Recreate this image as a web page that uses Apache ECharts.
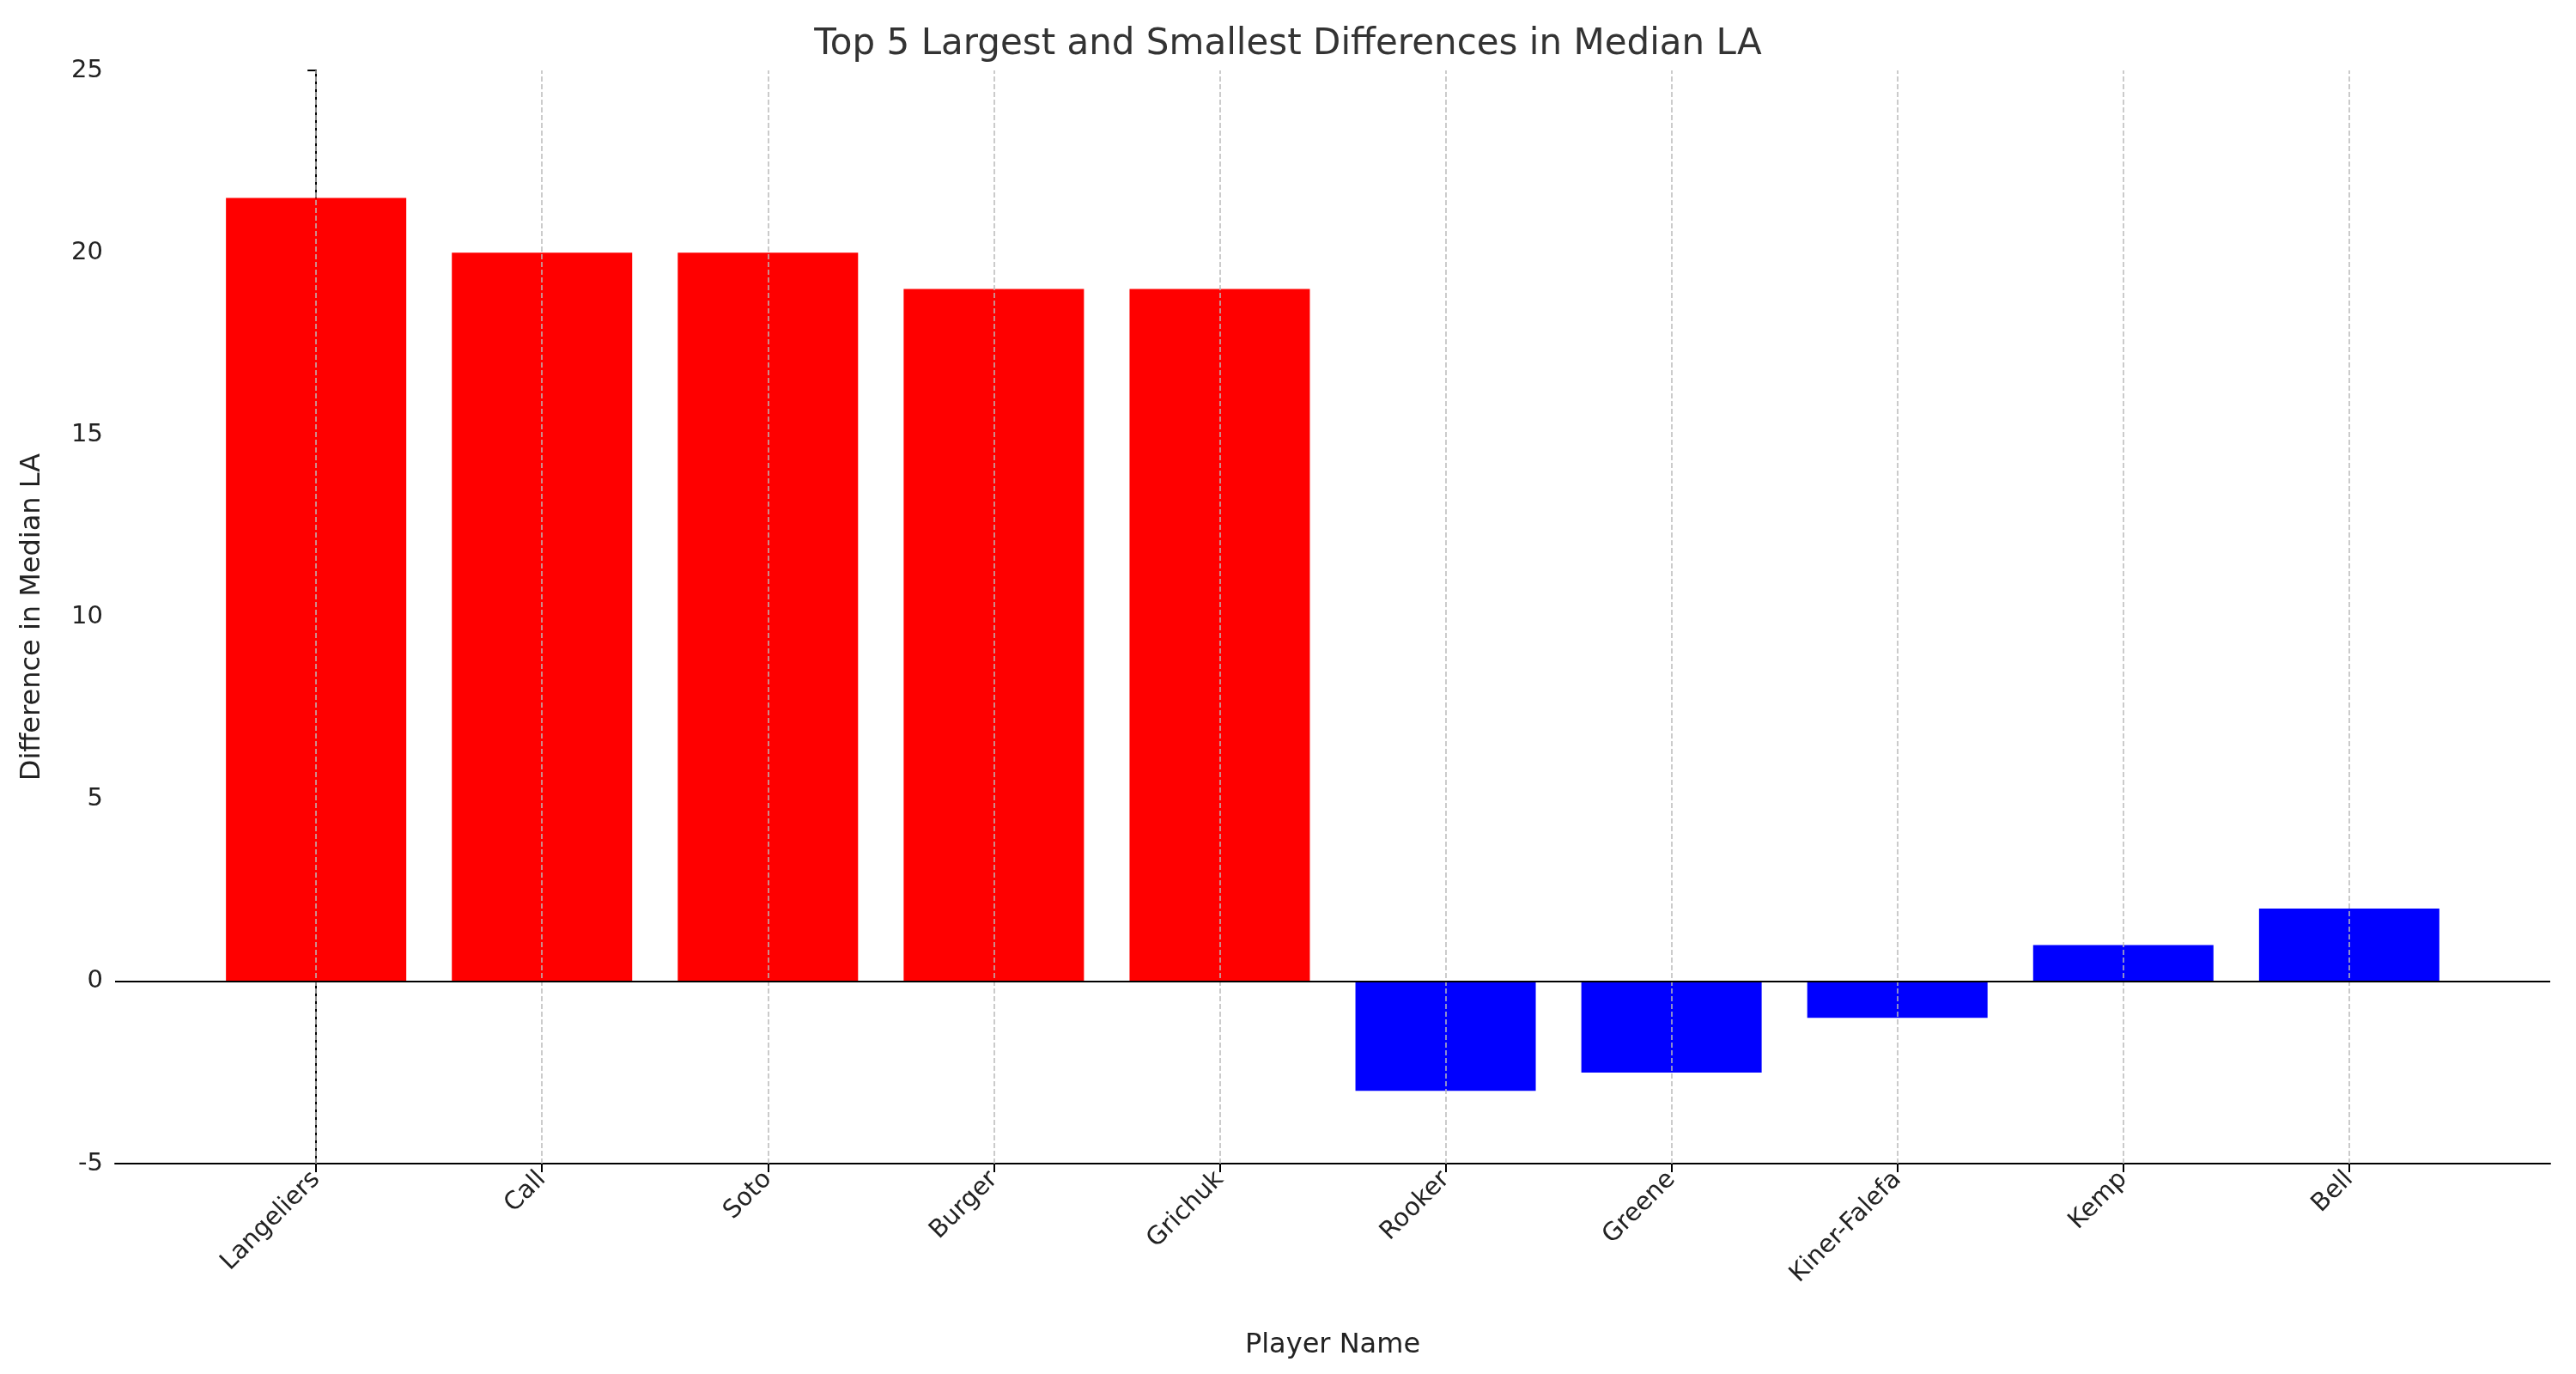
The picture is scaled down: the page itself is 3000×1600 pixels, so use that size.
<!DOCTYPE html>
<html><head><meta charset="utf-8">
<script src="https://cdn.jsdelivr.net/npm/echarts@6/dist/echarts.min.js"></script>
<style>html,body{margin:0;padding:0;background:#fff}#c{width:3000px;height:1600px}</style>
</head><body><div id="c"></div>
<script>
const players = ["Langeliers","Call","Soto","Burger","Grichuk","Rooker","Greene","Kiner-Falefa","Kemp","Bell"];
const diffs = [21.5,20,20,19,19,-3,-2.5,-1,1,2];
const barColors = ["#ff0000","#ff0000","#ff0000","#ff0000","#ff0000","#0000ff","#0000ff","#0000ff","#0000ff","#0000ff"];
const yTicks = [-5,0,5,10,15,20,25];
const idx = players.map((p,i)=>i);
const font = "DejaVu Sans";
const chart = echarts.init(document.getElementById('c'));
chart.setOption({
  animation:false,
  textStyle:{fontFamily:font},
  title:{text:"Top 5 Largest and Smallest Differences in Median LA",left:"center",top:26,textStyle:{fontFamily:font,fontSize:42,fontWeight:"normal",color:"#333"}},
  grid:{left:134,right:30,top:82,bottom:245},
  xAxis:{type:"value",min:-0.89,max:9.89,
    name:"Player Name",nameLocation:"middle",nameGap:196,nameTextStyle:{fontSize:32,color:"#222"},
    axisLine:{onZero:false,lineStyle:{color:"#000",width:2}},
    axisTick:{customValues:idx,length:10,lineStyle:{color:"#000",width:2}},
    axisLabel:{customValues:idx,rotate:45,fontSize:29,color:"#222",margin:14,formatter:v=>players[Math.round(v)]},
    splitLine:{show:false}},
  yAxis:{type:"value",min:-5,max:25,interval:5,
    name:"Difference in Median LA",nameLocation:"middle",nameGap:80,nameTextStyle:{fontSize:32,color:"#222"},
    axisLine:{show:true,lineStyle:{color:"#000",width:2}},
    axisTick:{show:true,length:10,lineStyle:{color:"#000",width:2}},
    axisLabel:{fontSize:29,color:"#222",margin:14},
    splitLine:{show:false}},
  series:[{type:"bar",barWidth:210,
    data:diffs.map((v,i)=>({value:[i,v],itemStyle:{color:barColors[i]}})),
    markLine:{silent:true,symbol:"none",label:{show:false},
      data:[...idx.map(i=>({xAxis:i,lineStyle:{color:"#bbb",type:"dashed",width:1.5}})),
            {yAxis:0,lineStyle:{color:"#000",type:"solid",width:2}}]},
    z:2}]
});
</script></body></html>
